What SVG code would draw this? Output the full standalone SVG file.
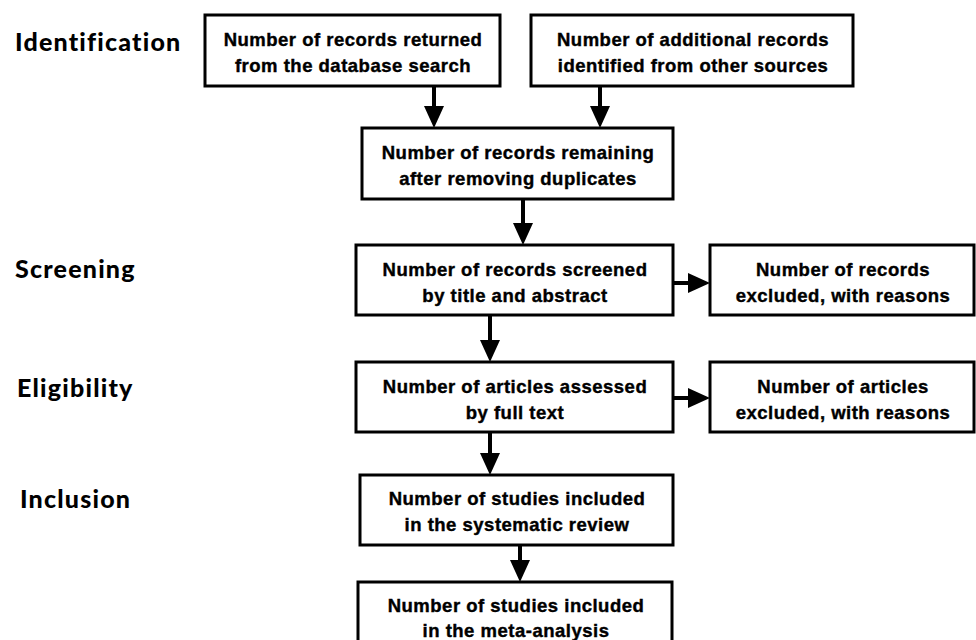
<svg xmlns="http://www.w3.org/2000/svg" width="976" height="640" viewBox="0 0 976 640">
<style>
.box{fill:#fff;stroke:#000;stroke-width:3}
.t{font-family:"Liberation Sans",Arial,sans-serif;font-weight:bold;font-size:18.5px;letter-spacing:0.5px;text-anchor:middle;fill:#000;stroke:#000;stroke-width:0.4}
.lbl{font-family:Lato,"Liberation Sans",sans-serif;font-weight:900;font-size:25px;letter-spacing:1.2px;fill:#000}
.c{stroke:#000;stroke-width:4;fill:none}
.ah{fill:#000}
</style>
<rect width="976" height="640" fill="#fff"/>
<g id="labels">
<text class="lbl" x="15" y="51">Identification</text>
<text class="lbl" x="15" y="278">Screening</text>
<text class="lbl" x="17" y="397">Eligibility</text>
<text class="lbl" x="20" y="508">Inclusion</text>
</g>
<g id="connectors">
<line class="c" x1="434" y1="86" x2="434" y2="108"/><polygon class="ah" points="424,106 444,106 434,128"/>
<line class="c" x1="600" y1="86" x2="600" y2="108"/><polygon class="ah" points="590,106 610,106 600,128"/>
<line class="c" x1="523" y1="199" x2="523" y2="225"/><polygon class="ah" points="513,223 533,223 523,245"/>
<line class="c" x1="673" y1="283" x2="690" y2="283"/><polygon class="ah" points="688,273 688,293 710,283"/>
<line class="c" x1="490" y1="315" x2="490" y2="342"/><polygon class="ah" points="480,340 500,340 490,362"/>
<line class="c" x1="673" y1="398" x2="690" y2="398"/><polygon class="ah" points="688,388 688,408 710,398"/>
<line class="c" x1="490" y1="432" x2="490" y2="455"/><polygon class="ah" points="480,453 500,453 490,475"/>
<line class="c" x1="520" y1="545" x2="520" y2="562"/><polygon class="ah" points="510,560 530,560 520,582"/>
</g>
<g id="n1"><rect class="box" x="205" y="15" width="295" height="71"/>
<text class="t" x="353" y="46">Number of records returned</text><text class="t" x="353" y="72">from the database search</text></g>
<g id="n2"><rect class="box" x="531" y="15" width="322" height="71"/>
<text class="t" x="693" y="46">Number of additional records</text><text class="t" x="693" y="72">identified from other sources</text></g>
<g id="n3"><rect class="box" x="362" y="128" width="311" height="71"/>
<text class="t" x="518" y="159">Number of records remaining</text><text class="t" x="518" y="185">after removing duplicates</text></g>
<g id="n4"><rect class="box" x="356" y="245" width="317" height="70"/>
<text class="t" x="515" y="276">Number of records screened</text><text class="t" x="515" y="302">by title and abstract</text></g>
<g id="n5"><rect class="box" x="710" y="245" width="264" height="70"/>
<text class="t" x="843" y="276">Number of records</text><text class="t" x="843" y="302">excluded, with reasons</text></g>
<g id="n6"><rect class="box" x="356" y="362" width="317" height="70"/>
<text class="t" x="515" y="393">Number of articles assessed</text><text class="t" x="515" y="419">by full text</text></g>
<g id="n7"><rect class="box" x="710" y="362" width="264" height="70"/>
<text class="t" x="843" y="393">Number of articles</text><text class="t" x="843" y="419">excluded, with reasons</text></g>
<g id="n8"><rect class="box" x="360" y="475" width="313" height="70"/>
<text class="t" x="517" y="505">Number of studies included</text><text class="t" x="517" y="531">in the systematic review</text></g>
<g id="n9"><rect class="box" x="358" y="582" width="314" height="70"/>
<text class="t" x="516" y="612">Number of studies included</text><text class="t" x="516" y="637">in the meta-analysis</text></g>
</svg>
